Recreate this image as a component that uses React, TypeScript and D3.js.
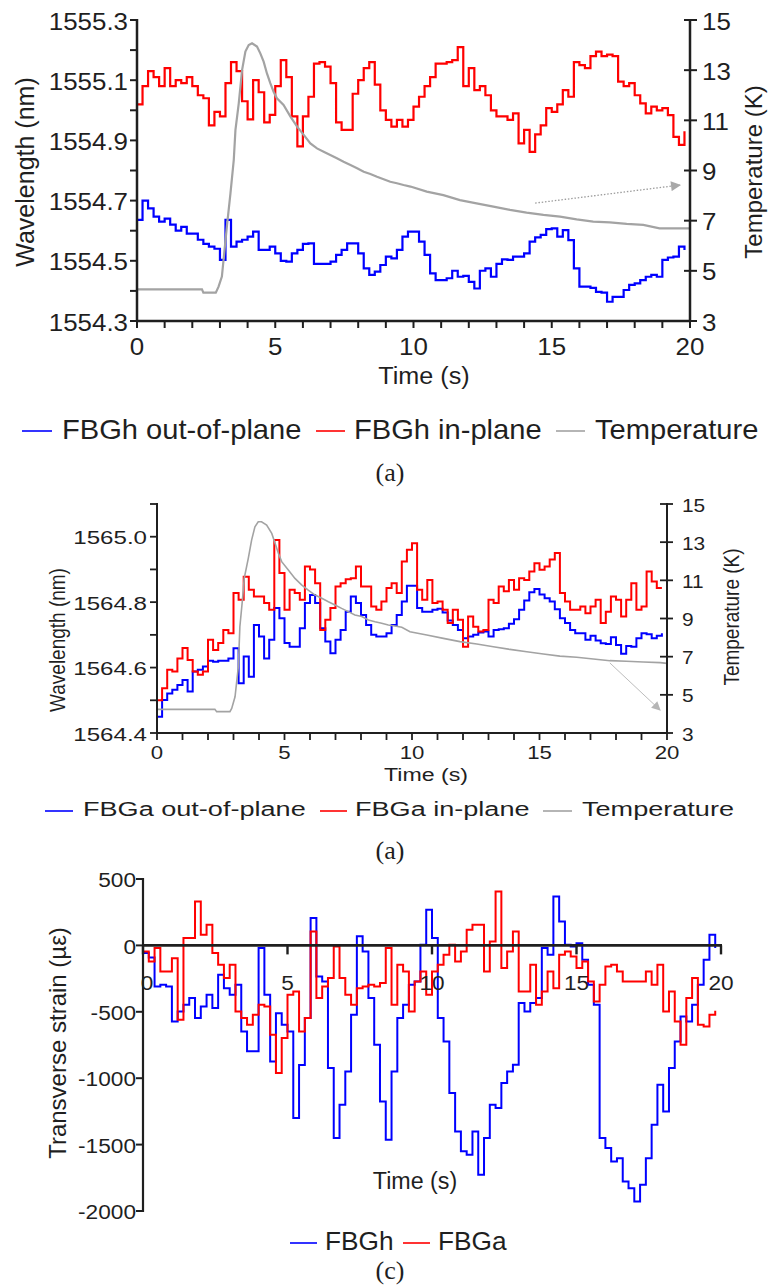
import React from 'react';
import * as d3 from 'd3';

const SAMPLE_STEP = 0.2;

// Panel (a) top: FBGh wavelengths (nm)
const P1_OUT_OF_PLANE = [
  1554.636, 1554.70, 1554.674, 1554.647, 1554.63, 1554.64, 1554.62, 1554.60, 1554.613, 1554.59,
  1554.59, 1554.57, 1554.556, 1554.547, 1554.54, 1554.503, 1554.636, 1554.547, 1554.564, 1554.57,
  1554.58, 1554.597, 1554.536, 1554.536, 1554.547, 1554.525, 1554.50, 1554.497, 1554.525, 1554.536,
  1554.556, 1554.558, 1554.49, 1554.49, 1554.49, 1554.497, 1554.52, 1554.536, 1554.558, 1554.558,
  1554.525, 1554.475, 1554.453, 1554.464, 1554.486, 1554.514, 1554.508, 1554.536, 1554.58, 1554.597,
  1554.597, 1554.564, 1554.52, 1554.458, 1554.436, 1554.436, 1554.442, 1554.467, 1554.447, 1554.45,
  1554.43, 1554.408, 1554.467, 1554.475, 1554.447, 1554.49, 1554.505, 1554.503, 1554.514, 1554.514,
  1554.525, 1554.564, 1554.578, 1554.586, 1554.605, 1554.608, 1554.58, 1554.602, 1554.569, 1554.475,
  1554.414, 1554.414, 1554.41, 1554.397, 1554.394, 1554.364, 1554.38, 1554.38, 1554.403, 1554.42,
  1554.425, 1554.436, 1554.447, 1554.453, 1554.447, 1554.503, 1554.511, 1554.514, 1554.547, 1554.536,
];
const P1_IN_PLANE = [
  1555.02, 1555.08, 1555.13, 1555.11, 1555.08, 1555.14, 1555.08, 1555.10, 1555.09, 1555.11,
  1555.08, 1555.05, 1555.04, 1554.95, 1554.995, 1554.98, 1555.09, 1555.16, 1555.13, 1555.03,
  1554.97, 1555.10, 1555.06, 1554.96, 1554.985, 1555.08, 1555.167, 1555.11, 1554.98, 1554.88,
  1554.98, 1555.045, 1555.155, 1555.16, 1555.145, 1555.09, 1554.96, 1554.935, 1554.935, 1555.055,
  1555.10, 1555.14, 1555.16, 1555.085, 1555.0, 1554.968, 1554.946, 1554.968, 1554.946, 1554.968,
  1555.012, 1555.045, 1555.08, 1555.11, 1555.155, 1555.155, 1555.16, 1555.167, 1555.21, 1555.08,
  1555.14, 1555.067, 1555.08, 1555.05, 1555.0, 1554.98, 1554.98, 1554.968, 1554.99, 1554.89,
  1554.935, 1554.862, 1554.92, 1554.95, 1555.007, 1554.995, 1555.02, 1555.067, 1555.045, 1555.16,
  1555.15, 1555.14, 1555.18, 1555.195, 1555.18, 1555.185, 1555.18, 1555.095, 1555.08, 1555.09,
  1555.05, 1555.023, 1554.99, 1555.012, 1555.0, 1555.007, 1554.984, 1554.912, 1554.885, 1554.93,
];
const P1_TEMP_TIME = [
  0, 2.35, 2.4, 2.85, 2.95, 3.07, 3.25, 3.38, 3.5, 3.56, 3.68, 3.8, 3.92, 4.04, 4.16, 4.34, 4.46, 4.58,
  4.7, 4.82, 4.94, 5.06, 5.3, 5.55, 5.79, 6.03, 6.27, 6.51, 6.75, 6.99, 7.23, 7.47, 7.72, 7.96, 8.2,
  8.44, 8.68, 8.92, 9.16, 9.4, 9.64, 9.89, 10.48, 11.08, 11.68, 12.28, 12.89, 13.49, 14.09, 14.7,
  15.3, 15.9, 16.5, 17.1, 17.71, 18.31, 18.9, 20,
];
const P1_TEMP_K = [
  4.26, 4.26, 4.13, 4.13, 4.37, 4.77, 6.76, 8.09, 9.42, 10.61, 11.68, 13.0, 13.74, 14.0, 14.07, 13.94,
  13.67, 13.34, 12.87, 12.48, 12.14, 11.88, 11.61, 11.15, 10.75, 10.42, 10.08, 9.88, 9.75, 9.62, 9.49,
  9.35, 9.22, 9.09, 8.95, 8.86, 8.75, 8.65, 8.55, 8.49, 8.42, 8.36, 8.16, 8.02, 7.82, 7.69, 7.56, 7.43,
  7.32, 7.23, 7.16, 7.05, 6.96, 6.93, 6.87, 6.83, 6.69, 6.69,
];
const P1_ARROW_TIME = [14.4, 19.64];
const P1_ARROW_K = [7.7, 8.42];

// Panel (a) middle: FBGa wavelengths (nm)
const P2_OUT_OF_PLANE = [
  1564.45, 1564.501, 1564.521, 1564.532, 1564.547, 1564.562, 1564.527, 1564.588, 1564.593, 1564.603,
  1564.621, 1564.618, 1564.621, 1564.621, 1564.628, 1564.659, 1564.552, 1564.634, 1564.572, 1564.73,
  1564.695, 1564.628, 1564.685, 1564.782, 1564.751, 1564.675, 1564.664, 1564.664, 1564.72, 1564.797,
  1564.822, 1564.797, 1564.72, 1564.68, 1564.644, 1564.685, 1564.715, 1564.771, 1564.817, 1564.797,
  1564.761, 1564.73, 1564.7, 1564.695, 1564.695, 1564.705, 1564.73, 1564.761, 1564.802, 1564.85,
  1564.85, 1564.782, 1564.771, 1564.771, 1564.777, 1564.78, 1564.768, 1564.744, 1564.73, 1564.715,
  1564.69, 1564.695, 1564.7, 1564.707, 1564.71, 1564.695, 1564.715, 1564.717, 1564.72, 1564.734,
  1564.748, 1564.777, 1564.805, 1564.83, 1564.84, 1564.823, 1564.812, 1564.802, 1564.778, 1564.751,
  1564.736, 1564.715, 1564.705, 1564.705, 1564.685, 1564.697, 1564.683, 1564.674, 1564.672, 1564.693,
  1564.669, 1564.642, 1564.666, 1564.664, 1564.69, 1564.705, 1564.702, 1564.69, 1564.697, 1564.705,
];
const P2_IN_PLANE = [
  1564.50, 1564.537, 1564.593, 1564.588, 1564.628, 1564.66, 1564.623, 1564.588, 1564.578, 1564.588,
  1564.685, 1564.654, 1564.675, 1564.715, 1564.705, 1564.828, 1564.807, 1564.878, 1564.838, 1564.817,
  1564.817, 1564.797, 1564.777, 1564.99, 1564.889, 1564.777, 1564.838, 1564.828, 1564.807, 1564.909,
  1564.9, 1564.858, 1564.715, 1564.746, 1564.782, 1564.848, 1564.858, 1564.87, 1564.873, 1564.909,
  1564.848, 1564.848, 1564.787, 1564.777, 1564.802, 1564.843, 1564.858, 1564.828, 1564.924, 1564.96,
  1564.98, 1564.838, 1564.807, 1564.868, 1564.797, 1564.802, 1564.777, 1564.736, 1564.777, 1564.746,
  1564.664, 1564.756, 1564.725, 1564.71, 1564.715, 1564.807, 1564.797, 1564.848, 1564.833, 1564.868,
  1564.838, 1564.873, 1564.868, 1564.894, 1564.919, 1564.899, 1564.909, 1564.93, 1564.95, 1564.828,
  1564.802, 1564.777, 1564.777, 1564.787, 1564.766, 1564.787, 1564.807, 1564.736, 1564.771, 1564.817,
  1564.807, 1564.756, 1564.807, 1564.858, 1564.777, 1564.787, 1564.894, 1564.863, 1564.843, 1564.843,
];
const P2_TEMP_TIME = [
  0, 2.27, 2.34, 2.86, 2.93, 3.06, 3.19, 3.25, 3.35, 3.42, 3.58, 3.71, 3.84, 3.97, 4.1, 4.3, 4.5, 4.63,
  4.76, 4.89, 5.15, 5.41, 5.67, 5.93, 6.2, 6.46, 6.72, 6.98, 7.24, 7.5, 7.76, 8.03, 8.29, 8.55, 8.81,
  9.07, 9.33, 9.6, 9.92, 10.58, 11.23, 11.88, 12.54, 13.19, 13.84, 14.5, 15.15, 15.8, 16.46, 17.11,
  17.76, 18.41, 19.07, 19.73, 20,
];
const P2_TEMP_K = [
  4.24, 4.24, 4.12, 4.12, 4.29, 4.9, 6.48, 8.57, 9.97, 11.1, 12.15, 13.11, 13.81, 14.07, 14.07, 13.9,
  13.46, 12.94, 12.42, 11.98, 11.54, 11.1, 10.76, 10.49, 10.23, 10.06, 9.88, 9.71, 9.53, 9.36, 9.18,
  9.1, 8.92, 8.83, 8.75, 8.66, 8.61, 8.54, 8.31, 8.14, 7.96, 7.79, 7.66, 7.52, 7.38, 7.26, 7.14, 7.03,
  6.97, 6.88, 6.79, 6.76, 6.72, 6.69, 6.65,
];
const P2_ARROW_TIME = [17.76, 19.73];
const P2_ARROW_K = [6.67, 4.2];

// Panel (c): transverse strain (µε)
const P3_FBGH = [
  -58, -91, -309, -296, -309, -573, -497, -447, -397, -547,
  -460, -372, -472, -221, -322, -372, -296, -648, -798, -798,
  -20, -372, -874, -510, -598, -648, -1300, -900, -547, 206,
  -234, -271, -924, -1451, -1200, -949, -522, 68, -45, -397,
  -748, -1175, -1464, -949, -547, -447, -296, -271, 5, 268,
  55, -547, -723, -1112, -1401, -1551, -1577, -1401, -1727, -1451,
  -1200, -1225, -1037, -949, -899, -434, -497, -434, -397, -20,
  -71, 369, 180, 5, -8, 17, -108, -296, -447, -1451,
  -1526, -1627, -1602, -1777, -1828, -1928, -1802, -1602, -1351, -1049,
  -1250, -924, -723, -535, -573, -447, -296, -108, 80, -20,
];
const P3_FBGA = [
  -45, -121, -20, -196, -196, -96, -560, 55, 55, 330,
  80, 155, -58, -146, -246, -146, -497, -547, -598, -522,
  -447, -460, -673, -960, -698, -372, -347, -648, -547, 105,
  -397, -309, -246, -8, -246, -372, -447, -322, -309, -296,
  -309, -284, -20, -447, -146, -196, -497, -271, -196, -372,
  -196, -146, -71, 5, -121, -45, 118, 155, 155, -196,
  30, 406, -171, -45, 105, -347, -347, -146, -447, -347,
  -196, -322, -71, -45, -83, -171, -121, -271, -422, -296,
  -158, -146, -196, -271, -271, -271, -271, -196, -296, -146,
  -497, -347, -573, -748, -397, -246, -598, -610, -522, -492,
];

// Axis ticks / labels
const TIME_LABELS = [0, 5, 10, 15, 20];
const TIME_MINOR = [0, 1, 2, 3, 4, 5, 6, 7, 8, 9, 10, 11, 12, 13, 14, 15, 16, 17, 18, 19, 20];
const TEMP_TICKS = [3, 5, 7, 9, 11, 13, 15];
const P1_WAVE_TICKS = [1554.3, 1554.4, 1554.5, 1554.6, 1554.7, 1554.8, 1554.9, 1555.0, 1555.1, 1555.2, 1555.3];
const P1_WAVE_LABELS = [1554.3, 1554.5, 1554.7, 1554.9, 1555.1, 1555.3];
const P2_WAVE_TICKS = [1564.4, 1564.5, 1564.6, 1564.7, 1564.8, 1564.9, 1565.0, 1565.1];
const P2_WAVE_LABELS = [1564.4, 1564.6, 1564.8, 1565.0];
const P3_STRAIN_TICKS = [500, 0, -500, -1000, -1500, -2000];

const LEGEND_P1 = ['FBGh out-of-plane', 'FBGh in-plane', 'Temperature'];
const LEGEND_P2 = ['FBGa out-of-plane', 'FBGa in-plane', 'Temperature'];
const LEGEND_P3 = ['FBGh', 'FBGa'];

// ---------- styling ----------
const SANS = '"Liberation Sans", Arial, Helvetica, sans-serif';
const SERIF = '"Liberation Serif", "Times New Roman", serif';
const INK = '#1f1f1f';
const BLUE = '#0000ff';
const RED = '#ff0000';
const GRAY = '#a3a3a3';
const SERIES_COLORS = [BLUE, RED, GRAY];

type Pt = { t: number; v: number };
const sampled = (vals: number[]): Pt[] => vals.map((v, i) => ({ t: +(i * SAMPLE_STEP).toFixed(2), v }));
const paired = (ts: number[], vs: number[]): Pt[] => ts.map((t, i) => ({ t, v: vs[i] }));

function Txt(props: {
  x: number; y: number; size: number; sx?: number; anchor?: string; rot?: number;
  family?: string; fill?: string; children: React.ReactNode;
}) {
  const { x, y, size, sx = 1, anchor = 'start', rot = 0, family = SANS, fill = INK, children } = props;
  const tr = `translate(${x},${y}) scale(${sx},1)` + (rot ? ` rotate(${rot})` : '');
  return (
    <text transform={tr} fontFamily={family} fontSize={size} textAnchor={anchor as any}
      dominantBaseline="central" fill={fill}>{children}</text>
  );
}

export default function App() {
  // ----- panel 1 scales -----
  const x1 = d3.scaleLinear().domain([0, 20]).range([137, 690]);
  const yL1 = d3.scaleLinear().domain([1554.3, 1555.3]).range([321, 20]);
  const yR1 = d3.scaleLinear().domain([3, 15]).range([321, 20]);
  // ----- panel 2 scales -----
  const x2 = d3.scaleLinear().domain([0, 20]).range([157, 667]);
  const yL2 = d3.scaleLinear().domain([1564.4, 1565.1]).range([733, 504]);
  const yR2 = d3.scaleLinear().domain([3, 15]).range([733, 504]);
  // ----- panel 3 scales -----
  const x3 = d3.scaleLinear().domain([0, 20]).range([143, 721]);
  const y3 = d3.scaleLinear().domain([-2000, 500]).range([1211, 879]);

  const step = (x: any, y: any) => d3.line<Pt>().x(d => x(d.t)).y(d => y(d.v)).curve(d3.curveStepAfter);
  const lin = (x: any, y: any) => d3.line<Pt>().x(d => x(d.t)).y(d => y(d.v));

  const fmt1 = d3.format('.1f');

  const legend = (labels: string[], colors: string[], lines: [number, number][], textX: number[],
    y: number, size: number, sx: number) => (
    <g>
      {labels.map((lab, i) => (
        <g key={lab + i}>
          <line x1={lines[i][0]} x2={lines[i][1]} y1={y + 2} y2={y + 2} stroke={colors[i]} strokeWidth={1.6} />
          <Txt x={textX[i]} y={y} size={size} sx={sx}>{lab}</Txt>
        </g>
      ))}
    </g>
  );

  return (
    <svg width={768} height={1285} style={{ position: 'absolute', left: 0, top: 0, background: '#fff' }}>
      <defs>
        <marker id="arrA" viewBox="0 0 10 10" refX="9" refY="5" markerWidth="12" markerHeight="10"
          markerUnits="userSpaceOnUse" orient="auto">
          <path d="M0,0 L10,5 L0,10 z" fill="#a8a8a8" />
        </marker>
        <marker id="arrB" viewBox="0 0 10 10" refX="9" refY="5" markerWidth="11" markerHeight="9"
          markerUnits="userSpaceOnUse" orient="auto">
          <path d="M0,0 L10,5 L0,10 z" fill="#b5b5b5" />
        </marker>
      </defs>
      <rect x={0} y={0} width={768} height={1285} fill="#fff" />

      {/* ================= PANEL 1 ================= */}
      <g>
        <path d={step(x1, yL1)(sampled(P1_OUT_OF_PLANE)) || ''} fill="none" stroke={BLUE} strokeWidth={2.2} />
        <path d={step(x1, yL1)(sampled(P1_IN_PLANE)) || ''} fill="none" stroke={RED} strokeWidth={2.2} />
        <path d={lin(x1, yR1)(paired(P1_TEMP_TIME, P1_TEMP_K)) || ''} fill="none" stroke={GRAY} strokeWidth={2.2} />
        <line x1={x1(P1_ARROW_TIME[0])} y1={yR1(P1_ARROW_K[0])} x2={x1(P1_ARROW_TIME[1])} y2={yR1(P1_ARROW_K[1])}
          stroke="#9c9c9c" strokeWidth={1.3} strokeDasharray="1.5 1.8" markerEnd="url(#arrA)" />

        {/* axes */}
        <line x1={137} x2={137} y1={19} y2={322} stroke={INK} strokeWidth={2.5} />
        <line x1={136} x2={691} y1={321} y2={321} stroke={INK} strokeWidth={2.5} />
        <line x1={690} x2={690} y1={19} y2={322} stroke={INK} strokeWidth={2.5} />
        {P1_WAVE_TICKS.map(v => (
          <line key={'p1l' + v} x1={130} x2={137} y1={yL1(v)} y2={yL1(v)} stroke={INK} strokeWidth={2} />
        ))}
        {P1_WAVE_LABELS.map(v => (
          <Txt key={'p1ll' + v} x={128} y={yL1(v) + 1} size={24} sx={1.08} anchor="end">{fmt1(v)}</Txt>
        ))}
        {TIME_MINOR.map(t => (
          <line key={'p1t' + t} x1={x1(t)} x2={x1(t)} y1={321} y2={328} stroke={INK} strokeWidth={2} />
        ))}
        {TIME_LABELS.map(t => (
          <Txt key={'p1tl' + t} x={x1(t)} y={346} size={24} sx={1.08} anchor="middle">{t}</Txt>
        ))}
        {TEMP_TICKS.map(k => (
          <line key={'p1r' + k} x1={684} x2={697} y1={yR1(k)} y2={yR1(k)} stroke={INK} strokeWidth={2} />
        ))}
        {TEMP_TICKS.map(k => (
          <Txt key={'p1rl' + k} x={702} y={yR1(k) + 1} size={24} sx={1.08}>{k}</Txt>
        ))}
        <Txt x={424} y={376} size={24} sx={1.05} anchor="middle">Time (s)</Txt>
        <Txt x={25} y={172} size={25} rot={-90} anchor="middle">Wavelength (nm)</Txt>
        <Txt x={753} y={172} size={24} rot={-90} anchor="middle">Temperature (K)</Txt>
        {legend(LEGEND_P1, SERIES_COLORS, [[22, 52], [316, 345], [556, 585]], [62, 354, 595], 429, 28, 1.04)}
        <Txt x={390} y={472} size={26} family={SERIF} anchor="middle">(a)</Txt>
      </g>

      {/* ================= PANEL 2 ================= */}
      <g>
        <path d={step(x2, yL2)(sampled(P2_OUT_OF_PLANE)) || ''} fill="none" stroke={BLUE} strokeWidth={2} />
        <path d={step(x2, yL2)(sampled(P2_IN_PLANE)) || ''} fill="none" stroke={RED} strokeWidth={2} />
        <path d={lin(x2, yR2)(paired(P2_TEMP_TIME, P2_TEMP_K)) || ''} fill="none" stroke={GRAY} strokeWidth={1.6} />
        <line x1={x2(P2_ARROW_TIME[0])} y1={yR2(P2_ARROW_K[0])} x2={x2(P2_ARROW_TIME[1])} y2={yR2(P2_ARROW_K[1])}
          stroke="#bdbdbd" strokeWidth={1} markerEnd="url(#arrB)" />

        <line x1={157} x2={157} y1={503} y2={734} stroke={INK} strokeWidth={2} />
        <line x1={156} x2={668} y1={733} y2={733} stroke={INK} strokeWidth={2} />
        <line x1={667} x2={667} y1={503} y2={734} stroke={INK} strokeWidth={2} />
        {P2_WAVE_TICKS.map(v => (
          <line key={'p2l' + v} x1={150} x2={157} y1={yL2(v)} y2={yL2(v)} stroke={INK} strokeWidth={1.8} />
        ))}
        {P2_WAVE_LABELS.map(v => (
          <Txt key={'p2ll' + v} x={147} y={yL2(v) + 1} size={19} sx={1.27} anchor="end">{fmt1(v)}</Txt>
        ))}
        {TIME_MINOR.map(t => (
          <line key={'p2t' + t} x1={x2(t)} x2={x2(t)} y1={733} y2={740} stroke={INK} strokeWidth={1.8} />
        ))}
        {TIME_LABELS.map(t => (
          <Txt key={'p2tl' + t} x={x2(t)} y={752} size={19} sx={1.17} anchor="middle">{t}</Txt>
        ))}
        {TEMP_TICKS.map(k => (
          <line key={'p2r' + k} x1={660} x2={673} y1={yR2(k)} y2={yR2(k)} stroke={INK} strokeWidth={1.8} />
        ))}
        {TEMP_TICKS.map(k => (
          <Txt key={'p2rl' + k} x={682} y={yR2(k) + 1} size={19} sx={1.1}>{k}</Txt>
        ))}
        <Txt x={426} y={774} size={19} sx={1.22} anchor="middle">Time (s)</Txt>
        <Txt x={57} y={640} size={19} sx={1.2} rot={-90} anchor="middle">Wavelength (nm)</Txt>
        <Txt x={731} y={617} size={19} sx={1.2} rot={-90} anchor="middle">Temperature (K)</Txt>
        {legend(LEGEND_P2, SERIES_COLORS, [[45, 73], [320, 347], [543, 572]], [83, 355, 582], 809, 21, 1.29)}
        <Txt x={390} y={850} size={26} family={SERIF} anchor="middle">(a)</Txt>
      </g>

      {/* ================= PANEL 3 ================= */}
      <g>
        <path d={step(x3, y3)(sampled(P3_FBGH)) || ''} fill="none" stroke={BLUE} strokeWidth={2} />
        <path d={step(x3, y3)(sampled(P3_FBGA)) || ''} fill="none" stroke={RED} strokeWidth={2} />

        <line x1={143} x2={143} y1={878} y2={1212} stroke={INK} strokeWidth={2.2} />
        {P3_STRAIN_TICKS.map(v => (
          <line key={'p3l' + v} x1={136} x2={143} y1={y3(v)} y2={y3(v)} stroke={INK} strokeWidth={2} />
        ))}
        {P3_STRAIN_TICKS.map(v => (
          <Txt key={'p3ll' + v} x={136} y={y3(v) + 1} size={21} sx={1.08} anchor="end">{v}</Txt>
        ))}
        <line x1={143} x2={722} y1={y3(0)} y2={y3(0)} stroke={INK} strokeWidth={2.6} />
        {TIME_LABELS.map(t => (
          <line key={'p3t' + t} x1={x3(t)} x2={x3(t)} y1={y3(0)} y2={y3(0) + 9} stroke={INK} strokeWidth={2.4} />
        ))}
        {TIME_LABELS.map(t => (
          <Txt key={'p3tl' + t} x={x3(t) + (t === 0 ? 4 : 0)} y={983} size={21} sx={1.08} anchor="middle">{t}</Txt>
        ))}
        <Txt x={415} y={1181} size={24} sx={0.97} anchor="middle">Time (s)</Txt>
        <Txt x={57} y={1043} size={24} rot={-90} anchor="middle">Transverse strain (µε)</Txt>
        {legend(LEGEND_P3, [BLUE, RED], [[290, 317], [403, 430]], [325, 438], 1241, 25, 1.05)}
        <Txt x={390} y={1270} size={26} family={SERIF} anchor="middle">(c)</Txt>
      </g>
    </svg>
  );
}
